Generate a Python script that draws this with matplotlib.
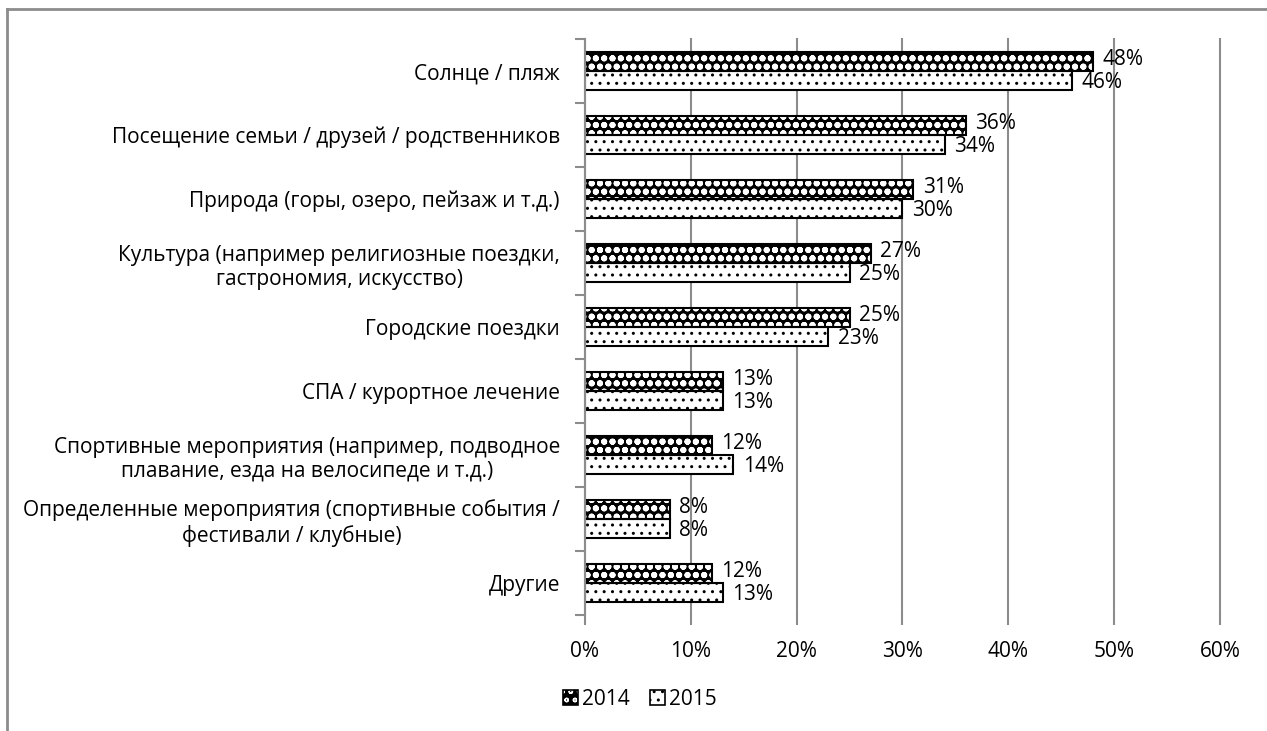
import numpy as np
import matplotlib.pyplot as plt
from matplotlib.patches import Patch
from matplotlib.lines import Line2D

plt.rcParams['font.family'] = ['Open Sans', 'DejaVu Sans']
plt.rcParams['hatch.linewidth'] = 1.0

# Data
# -----------------
categories = [
    "Солнце / пляж",
    "Посещение семьи / друзей / родственников",
    "Природа (горы, озеро, пейзаж и т.д.)",
    "Культура (например религиозные поездки,\nгастрономия, искусство)",
    "Городские поездки",
    "СПА / курортное лечение",
    "Спортивные мероприятия (например, подводное\nплавание, езда на велосипеде и т.д.)",
    "Определенные мероприятия (спортивные события /\nфестивали / клубные)",
    "Другие",
]
vals_2014 = [48, 36, 31, 27, 25, 13, 12, 8, 12]
vals_2015 = [46, 34, 30, 25, 23, 13, 14, 8, 13]
series_names = ["2014", "2015"]
xticks = [0, 10, 20, 30, 40, 50, 60]


def thick_hatch(patches, lw):
    # per-artist hatch width where supported
    for p in patches:
        if hasattr(p, "set_hatch_linewidth"):
            p.set_hatch_linewidth(lw)


# Plot
# -----------------
fig = plt.figure(figsize=(12.67, 7.31), dpi=100)
ax = fig.add_axes([0.4617, 0.1587, 0.9629 - 0.4617, 0.9466 - 0.1587])

y = np.arange(len(categories))
h = 0.29
fs = 15
grey = "#8c8c8c"

# 2014: black with white pattern, black outline
b14 = ax.barh(y - h / 2, vals_2014, height=h, color="black", edgecolor="white",
              hatch="oo", linewidth=0, zorder=3)
thick_hatch(b14, 2.0)
ax.barh(y - h / 2, vals_2014, height=h, fill=False, edgecolor="black",
        linewidth=1.5, zorder=4)
# 2015: white with black dots
ax.barh(y + h / 2, vals_2015, height=h, color="white", edgecolor="black",
        hatch="..", linewidth=1.5, zorder=3)

for i in range(len(categories)):
    ax.text(vals_2014[i] + 0.9, y[i] - h / 2 - 0.03, f"{vals_2014[i]}%",
            va="center", ha="left", fontsize=fs)
    ax.text(vals_2015[i] + 0.9, y[i] + h / 2 + 0.03, f"{vals_2015[i]}%",
            va="center", ha="left", fontsize=fs)

ax.set_xlim(0, 60)
ax.set_ylim(len(categories) - 0.5, -0.5)
ax.set_xticks(xticks)
ax.set_xticklabels([f"{t}%" for t in xticks], fontsize=fs)
ax.set_yticks(y)
ax.set_yticklabels(categories, fontsize=fs, multialignment="center")
ax.tick_params(axis="y", length=0, pad=18)
ax.set_yticks(np.arange(-0.5, len(categories), 1), minor=True)
ax.tick_params(axis="y", which="minor", length=7, width=1.5, color=grey, direction="out")
ax.tick_params(axis="x", length=7, width=1.5, color=grey, direction="out", pad=12)

ax.xaxis.grid(True, color=grey, linewidth=1.5, zorder=0)
for gl in ax.get_xgridlines():
    gl.set_clip_on(False)
ax.set_axisbelow(True)
for s in ["top", "right", "bottom"]:
    ax.spines[s].set_visible(False)
ax.spines["left"].set_color(grey)
ax.spines["left"].set_linewidth(1.5)
ax.spines["left"].set_zorder(5)

# Legend
p14 = Patch(facecolor="black", edgecolor="white", hatch="oo", linewidth=0)
thick_hatch([p14], 2.0)
h14 = (p14, Patch(fill=False, edgecolor="black", linewidth=1.2))
h15 = Patch(facecolor="white", edgecolor="black", hatch="..", linewidth=1.2)
fig.legend([h14, h15], series_names, loc="center", bbox_to_anchor=(0.505, 0.043),
           ncol=2, frameon=False, fontsize=fs, handlelength=0.7, handleheight=0.7,
           handletextpad=0.2, columnspacing=1.0)

# Outer frame (cropped chart border)
fig.add_artist(Line2D([0.0055, 1.0], [0.9877, 0.9877], color=grey, linewidth=2))
fig.add_artist(Line2D([0.0055, 0.0055], [0.0, 0.9877], color=grey, linewidth=2))

fig.savefig("out.png", dpi=100)
